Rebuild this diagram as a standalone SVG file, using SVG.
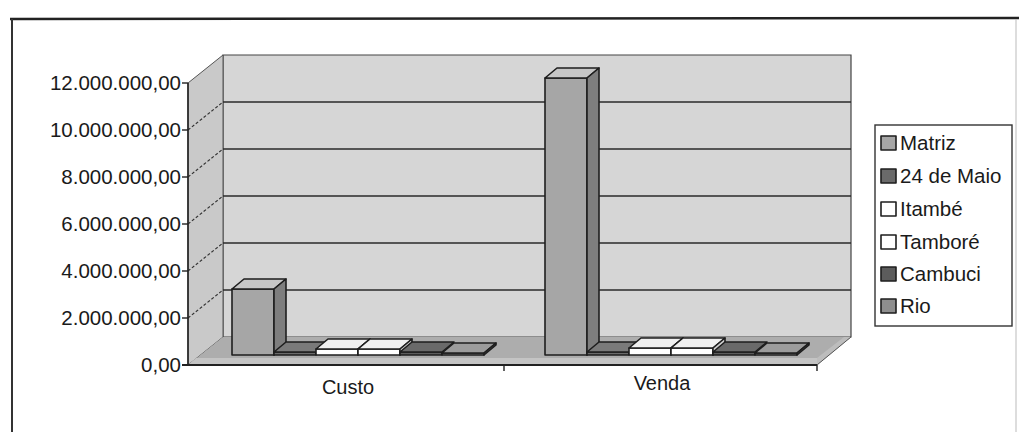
<svg xmlns="http://www.w3.org/2000/svg" width="1019" height="432" viewBox="0 0 1019 432">
<style>
text{font-family:"Liberation Sans",Arial,sans-serif;fill:#1a1a1a}
.ax{font-size:20.5px;text-anchor:end}
.cat{font-size:20px;text-anchor:middle}
.lg{font-size:20.5px}
.e{stroke:#1e1e1e;stroke-width:1.6;stroke-linejoin:round}
.grid{stroke:#2a2a2a;stroke-width:1.5}
.dash{stroke:#333;stroke-width:1.2;stroke-dasharray:3 2;fill:none}
.m1{fill:#a6a6a6}.m2{fill:#c6c6c6}.m3{fill:#7e7e7e}
.d1{fill:#6a6a6a}.d2{fill:#7a7a7a}.d3{fill:#555}
.w1{fill:#ffffff}.w2{fill:#f0f0f0}.w3{fill:#cfcfcf}
.c1{fill:#5c5c5c}.c2{fill:#6a6a6a}.c3{fill:#4a4a4a}
.r1{fill:#8e8e8e}.r2{fill:#9c9c9c}.r3{fill:#777}
</style>
<rect width="1019" height="432" fill="#ffffff"/>
<g id="frame">
<line x1="10" y1="19" x2="1019" y2="18" stroke="#222" stroke-width="2.5"/>
<line x1="12" y1="19" x2="12" y2="432" stroke="#333" stroke-width="2"/>
<line x1="1016" y1="19" x2="1016" y2="432" stroke="#bbb" stroke-width="1"/>
</g>
<g id="plot-walls">
<polygon points="223,55 851,55 851,337 223,337" fill="#d6d6d6" stroke="#444" stroke-width="1.2"/>
<polygon points="188,83 223,55 223,337 188,365" fill="#c9c9c9" stroke="#555" stroke-width="1"/>
<polygon points="188,365 223,337 851,337 817,365" fill="#adadad"/>
<polygon points="196,358 817,358 817,365 188,365" fill="#c4c4c4"/>
<polygon points="817,358 844,337 851,337 817,365" fill="#bdbdbd"/>
<line x1="817" y1="365" x2="851" y2="337" stroke="#555" stroke-width="1"/>
</g>
<g id="gridlines">
<line class="grid" x1="223" y1="102" x2="851" y2="102"/>
<line class="grid" x1="223" y1="149" x2="851" y2="149"/>
<line class="grid" x1="223" y1="196" x2="851" y2="196"/>
<line class="grid" x1="223" y1="243" x2="851" y2="243"/>
<line class="grid" x1="223" y1="290" x2="851" y2="290"/>
<line class="dash" x1="188" y1="130" x2="223" y2="102"/>
<line class="dash" x1="188" y1="177" x2="223" y2="149"/>
<line class="dash" x1="188" y1="224" x2="223" y2="196"/>
<line class="dash" x1="188" y1="271" x2="223" y2="243"/>
<line class="dash" x1="188" y1="318" x2="223" y2="290"/>
</g>
<g id="bars-custo">
<polygon class="m1 e" points="232,289 274,289 274,355 232,355"/>
<polygon class="m2 e" points="232,289 274,289 286,279 244,279"/>
<polygon class="m3 e" points="274,289 286,279 286,345 274,355"/>
<polygon class="d1 e" points="274,352 316,352 316,355 274,355"/>
<polygon class="d2 e" points="274,352 316,352 328,342 286,342"/>
<polygon class="w1 e" points="316,349 358,349 358,355 316,355"/>
<polygon class="w2 e" points="316,349 358,349 370,339 328,339"/>
<polygon class="w3 e" points="358,349 370,339 370,345 358,355"/>
<polygon class="w1 e" points="358,349 400,349 400,355 358,355"/>
<polygon class="w2 e" points="358,349 400,349 412,339 370,339"/>
<polygon class="w3 e" points="400,349 412,339 412,345 400,355"/>
<polygon class="c1 e" points="400,352 442,352 442,355 400,355"/>
<polygon class="c2 e" points="400,352 442,352 454,342 412,342"/>
<polygon class="r1 e" points="442,353 484,353 484,355 442,355"/>
<polygon class="r2 e" points="442,353 484,353 496,343 454,343"/>
<polygon class="r3 e" points="484,353 496,343 496,345 484,355"/>
</g>
<g id="bars-venda">
<polygon class="m1 e" points="545,78 587,78 587,355 545,355"/>
<polygon class="m2 e" points="545,78 587,78 599,68 557,68"/>
<polygon class="m3 e" points="587,78 599,68 599,345 587,355"/>
<polygon class="d1 e" points="587,352 629,352 629,355 587,355"/>
<polygon class="d2 e" points="587,352 629,352 641,342 599,342"/>
<polygon class="w1 e" points="629,348 671,348 671,355 629,355"/>
<polygon class="w2 e" points="629,348 671,348 683,338 641,338"/>
<polygon class="w3 e" points="671,348 683,338 683,345 671,355"/>
<polygon class="w1 e" points="671,348 713,348 713,355 671,355"/>
<polygon class="w2 e" points="671,348 713,348 725,338 683,338"/>
<polygon class="w3 e" points="713,348 725,338 725,345 713,355"/>
<polygon class="c1 e" points="713,352 755,352 755,355 713,355"/>
<polygon class="c2 e" points="713,352 755,352 767,342 725,342"/>
<polygon class="r1 e" points="755,353 797,353 797,355 755,355"/>
<polygon class="r2 e" points="755,353 797,353 809,343 767,343"/>
<polygon class="r3 e" points="797,353 809,343 809,345 797,355"/>
</g>
<g id="axes">
<line x1="188" y1="83" x2="188" y2="365" stroke="#222" stroke-width="1.6"/>
<line x1="182" y1="365" x2="817" y2="365" stroke="#222" stroke-width="1.8"/>
<g stroke="#222" stroke-width="1.4">
<line x1="182" y1="83" x2="188" y2="83"/>
<line x1="182" y1="130" x2="188" y2="130"/>
<line x1="182" y1="177" x2="188" y2="177"/>
<line x1="182" y1="224" x2="188" y2="224"/>
<line x1="182" y1="271" x2="188" y2="271"/>
<line x1="182" y1="318" x2="188" y2="318"/>
<line x1="504" y1="365" x2="504" y2="371"/>
<line x1="817" y1="365" x2="817" y2="371"/>
</g>
<text class="ax" x="181" y="90">12.000.000,00</text>
<text class="ax" x="181" y="137">10.000.000,00</text>
<text class="ax" x="181" y="184">8.000.000,00</text>
<text class="ax" x="181" y="231">6.000.000,00</text>
<text class="ax" x="181" y="278">4.000.000,00</text>
<text class="ax" x="181" y="325">2.000.000,00</text>
<text class="ax" x="181" y="372">0,00</text>
<text class="cat" x="348" y="394">Custo</text>
<text class="cat" x="662" y="390">Venda</text>
</g>
<g id="legend">
<rect x="875" y="125" width="137" height="201" fill="#ffffff" stroke="#333" stroke-width="1.4"/>
<g id="lg-matriz"><rect class="m1 e" x="881" y="136" width="15" height="14"/><text class="lg" x="900" y="150">Matriz</text></g>
<g id="lg-24demaio"><rect class="d1 e" x="881" y="169" width="15" height="14"/><text class="lg" x="900" y="183">24 de Maio</text></g>
<g id="lg-itambe"><rect class="w1 e" x="881" y="202" width="15" height="14"/><text class="lg" x="900" y="216">Itambé</text></g>
<g id="lg-tambore"><rect class="w1 e" x="881" y="235" width="15" height="14"/><text class="lg" x="900" y="249">Tamboré</text></g>
<g id="lg-cambuci"><rect class="c1 e" x="881" y="267" width="15" height="14"/><text class="lg" x="900" y="281">Cambuci</text></g>
<g id="lg-rio"><rect class="r1 e" x="881" y="299" width="15" height="14"/><text class="lg" x="900" y="313">Rio</text></g>
</g>
</svg>
